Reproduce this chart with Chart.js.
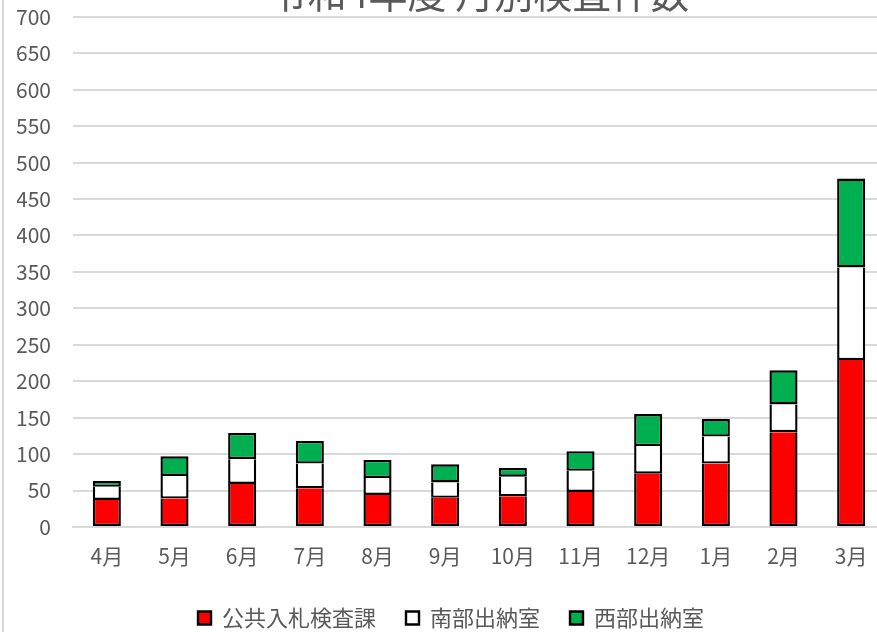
<!DOCTYPE html>
<html>
<head>
<meta charset="utf-8">
<script src="https://cdn.jsdelivr.net/npm/chart.js@4/dist/chart.umd.min.js"></script>
<style>
  html, body { margin: 0; padding: 0; background: #fff; overflow: hidden; width: 877px; height: 632px; }
  #wrap { position: absolute; left: 2px; top: -38px; width: 894px; height: 677px; border-left: 2px solid #d9d9d9; }
</style>
</head>
<body>
<div id="wrap"><canvas id="kensaChart"></canvas></div>
<script>
const months = ['4月', '5月', '6月', '7月', '8月', '9月', '10月', '11月', '12月', '1月', '2月', '3月'];
const koukyou = [37, 39, 59, 53, 44, 40, 42, 48, 73, 87, 130, 229];
const nanbu = [18, 31, 34, 34, 23, 21, 27, 29, 38, 37, 38, 127];
const seibu = [8, 27, 36, 31, 25, 25, 12, 27, 44, 24, 47, 122];

const font = "'Noto Sans CJK JP', 'Noto Sans', sans-serif";
const gray = '#595959';

const ctx = document.getElementById('kensaChart').getContext('2d');
const kensaChart = new Chart(ctx, {
    type: 'bar',
    data: {
        labels: months,
        datasets: [
            // lower segments skip their top edge so joints are one border thick
            { label: '公共入札検査課', data: koukyou, backgroundColor: '#ff0000', borderSkipped: 'end' },
            { label: '南部出納室', data: nanbu, backgroundColor: '#ffffff', borderSkipped: 'end' },
            { label: '西部出納室', data: seibu, backgroundColor: '#00b050', borderSkipped: false }
        ].map(d => Object.assign(d, {
            borderColor: '#000000',
            borderWidth: 2.4,
            categoryPercentage: 1,
            barPercentage: 0.415
        }))
    },
    options: {
        responsive: true,
        maintainAspectRatio: false,
        animation: false,
        layout: { padding: { left: 13, right: 13, top: 0, bottom: 0 } },
        plugins: {
            title: {
                display: true,
                text: '令和4年度 月別検査件数',
                fullSize: false,
                color: gray,
                font: { family: font, size: 39, weight: 'normal' },
                padding: { top: 8, bottom: 0 }
            },
            legend: {
                position: 'bottom',
                labels: {
                    color: gray,
                    font: { family: font, size: 22 },
                    boxWidth: 13,
                    boxHeight: 13,
                    padding: 30
                }
            },
            tooltip: { enabled: false }
        },
        scales: {
            x: {
                stacked: true,
                grid: { display: false },
                border: { color: '#d9d9d9', width: 2 },
                ticks: { color: gray, font: { family: font, size: 21, lineHeight: 1.05 }, padding: 10 }
            },
            y: {
                stacked: true,
                min: 0,
                max: 700,
                grid: { color: '#d9d9d9', lineWidth: 2, drawTicks: false },
                border: { display: false },
                ticks: { stepSize: 50, color: gray, font: { family: font, size: 21 }, padding: 22 },
                // fixed axis width so the plot starts where the original does
                afterFit: function(scale) { scale.width = 56; }
            }
        }
    }
});
</script>
</body>
</html>
